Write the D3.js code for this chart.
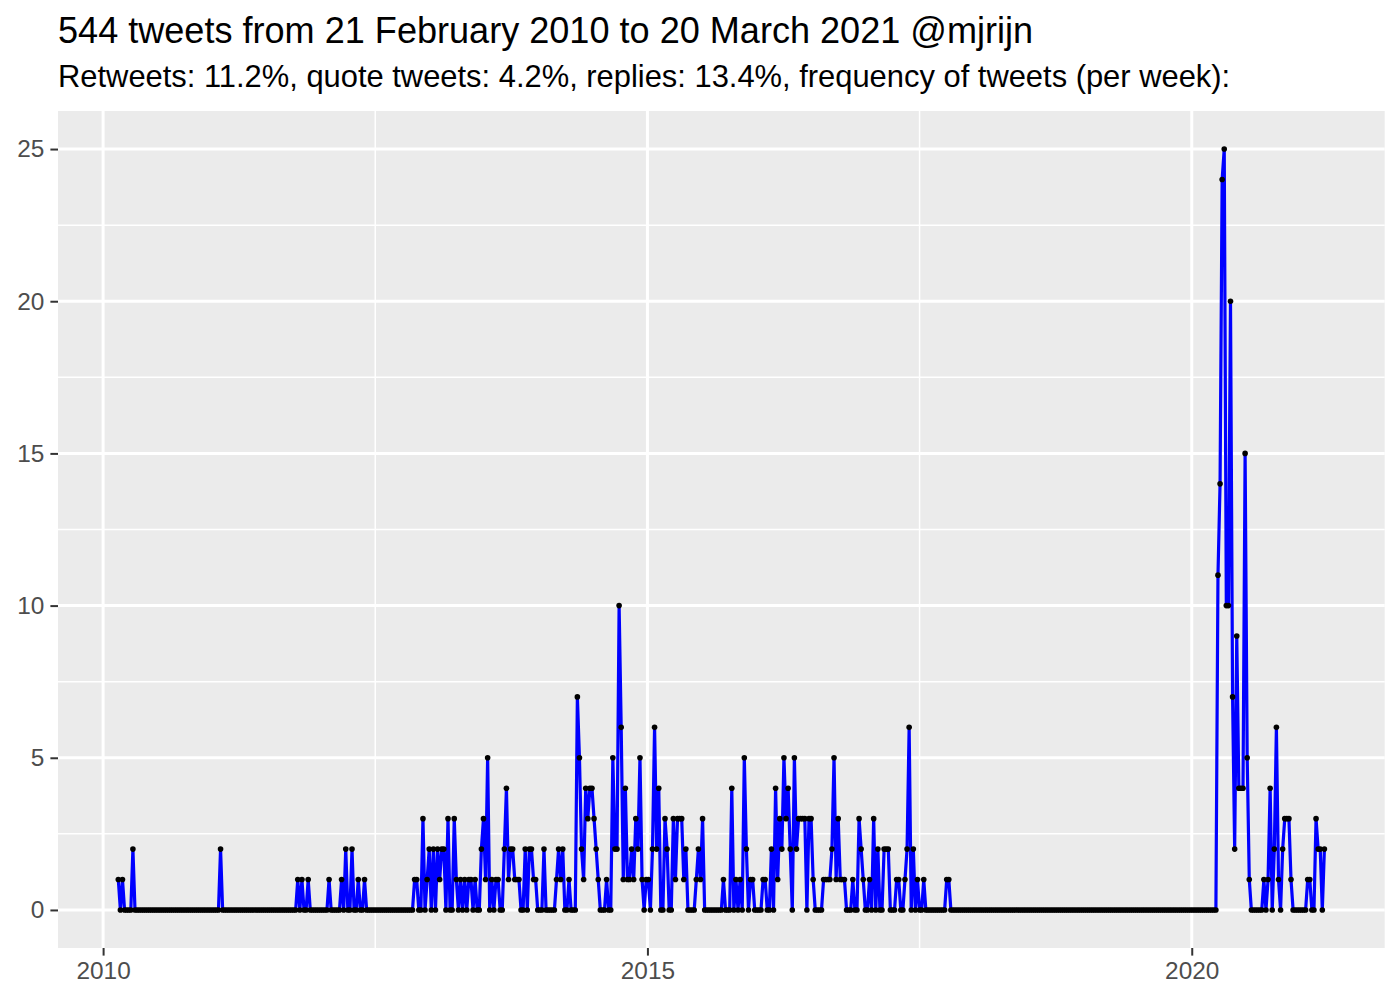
<!DOCTYPE html>
<html><head><meta charset="utf-8">
<script src="https://cdn.jsdelivr.net/npm/d3@7"></script>
<style>body{margin:0;background:#fff} text{font-family:"Liberation Sans",Arial,Helvetica,sans-serif}</style>
</head><body><svg id="chart" width="1400" height="1000"></svg>
<script>
const titleText = "544 tweets from 21 February 2010 to 20 March 2021 @mjrijn";
const subtitleText = "Retweets: 11.2%, quote tweets: 4.2%, replies: 13.4%, frequency of tweets (per week):";
const firstWeek = "2010-02-21";
const weekCount = 579;
// weeks (index from firstWeek) with at least one tweet; all other weeks are 0
const nonzeroWeeks = [0,2,7,49,86,88,91,101,107,109,112,115,118,
142,143,146,148,149,151,153,154,155,156,158,161,162,164,166,168,169,171,174,175,176,177,179,181,182,185,186,187,188,189,190,191,192,195,197,198,199,200,204,210,211,212,213,216,
220,221,222,223,224,225,226,227,228,229,230,234,237,238,239,240,241,242,243,244,245,246,247,248,249,250,251,253,254,256,257,258,259,262,263,266,267,268,269,270,271,272,277,278,279,280,290,294,296,298,300,301,303,304,309,310,313,315,316,317,318,319,320,321,322,324,325,326,327,328,329,331,332,333,338,339,340,341,342,343,344,345,346,347,348,352,355,356,357,360,362,364,367,368,369,373,374,377,378,379,381,383,386,397,398,
527,528,529,530,531,532,533,534,535,536,537,538,539,540,541,542,549,551,552,554,555,556,558,559,560,561,562,570,571,574,575,576,578];
const nonzeroCounts = [1,1,2,2,1,1,1,1,1,2,2,1,1,
1,1,3,1,2,2,2,1,2,2,3,3,1,1,1,1,1,1,2,3,1,5,1,1,1,2,4,1,2,2,1,1,1,2,2,2,1,1,2,1,2,1,2,1,
7,5,2,1,4,3,4,4,3,2,1,1,5,2,2,10,6,1,4,1,1,2,1,3,2,5,1,1,1,2,6,2,4,3,2,3,1,3,3,3,1,2,1,2,1,3,1,4,1,1,5,2,1,1,1,1,2,4,1,3,2,5,3,4,2,5,2,3,3,3,3,3,3,1,1,1,1,1,2,5,1,3,1,1,1,1,3,2,1,1,3,2,2,2,2,1,1,1,2,6,2,1,1,1,1,
11,14,24,25,10,10,20,7,2,9,4,4,4,15,5,1,1,1,4,2,6,1,2,3,3,3,1,1,1,3,2,2,2];
const yTicks = [0,5,10,15,20,25];
const yMinor = [2.5,7.5,12.5,17.5,22.5];
const xTickYears = [2010,2015,2020];

const countByWeek = new Map(nonzeroWeeks.map((w,i)=>[w,nonzeroCounts[i]]));
const start = new Date(firstWeek + "T00:00:00Z");
const series = d3.range(weekCount).map(i => ({date: d3.utcDay.offset(start, 7*i), n: countByWeek.get(i) || 0}));

const W = 1400, H = 1000;
const P = {left: 58, right: 1384.7, top: 111, bottom: 948};
const svg = d3.select("#chart");
svg.append("rect").attr("width",W).attr("height",H).attr("fill","#fff");

const ext = d3.extent(series, d=>d.date);
const span = ext[1]-ext[0];
const x = d3.scaleUtc().domain([new Date(+ext[0]-0.05*span), new Date(+ext[1]+0.05*span)]).range([P.left, P.right]);
const yMax = d3.max(series, d=>d.n);
const y = d3.scaleLinear().domain([-0.05*yMax, yMax*1.05]).range([P.bottom, P.top]);

svg.append("rect").attr("x",P.left).attr("y",P.top).attr("width",P.right-P.left).attr("height",P.bottom-P.top).attr("fill","#EBEBEB");

const xMajor = xTickYears.map(yr => new Date(Date.UTC(yr,0,1)));
const xMinor = d3.pairs(xMajor).map(([a,b]) => new Date((+a + +b)/2));

const g = svg.append("g");
g.selectAll(".ymin").data(yMinor).join("line").attr("x1",P.left).attr("x2",P.right)
  .attr("y1",d=>y(d)).attr("y2",d=>y(d)).attr("stroke","#fff").attr("stroke-width",1.5);
g.selectAll(".xmin").data(xMinor).join("line").attr("y1",P.top).attr("y2",P.bottom)
  .attr("x1",d=>x(d)).attr("x2",d=>x(d)).attr("stroke","#fff").attr("stroke-width",1.5);
g.selectAll(".ymaj").data(yTicks).join("line").attr("x1",P.left).attr("x2",P.right)
  .attr("y1",d=>y(d)).attr("y2",d=>y(d)).attr("stroke","#fff").attr("stroke-width",3);
g.selectAll(".xmaj").data(xMajor).join("line").attr("y1",P.top).attr("y2",P.bottom)
  .attr("x1",d=>x(d)).attr("x2",d=>x(d)).attr("stroke","#fff").attr("stroke-width",3);

svg.append("path").datum(series).attr("fill","none").attr("stroke","#0000FF").attr("stroke-width",3.2)
  .attr("stroke-linejoin","round")
  .attr("d", d3.line().x(d=>x(d.date)).y(d=>y(d.n)));
svg.append("g").selectAll("circle").data(series).join("circle")
  .attr("cx",d=>x(d.date)).attr("cy",d=>y(d.n)).attr("r",2.8).attr("fill","#000");

// axes
const yAxis = d3.axisLeft(y).tickValues(yTicks).tickSize(7.6).tickPadding(6);
const ya = svg.append("g").attr("transform",`translate(${P.left},0)`).call(yAxis);
const xAxis = d3.axisBottom(x).tickValues(xMajor).tickFormat(d3.utcFormat("%Y")).tickSize(7.6).tickPadding(6);
const xa = svg.append("g").attr("transform",`translate(0,${P.bottom})`).call(xAxis);
[ya,xa].forEach(a=>{
  a.select(".domain").remove();
  a.selectAll(".tick line").attr("stroke","#333333").attr("stroke-width",2);
  a.selectAll(".tick text").attr("fill","#4D4D4D").style("font-size","24.4px").style("font-family",'"Liberation Sans",Arial,sans-serif');
});

svg.append("text").attr("x",P.left).attr("y",43).style("font-size","36.1px").attr("fill","#000").text(titleText);
svg.append("text").attr("x",P.left).attr("y",87).style("font-size","30.9px").attr("fill","#000").text(subtitleText);
</script></body></html>
